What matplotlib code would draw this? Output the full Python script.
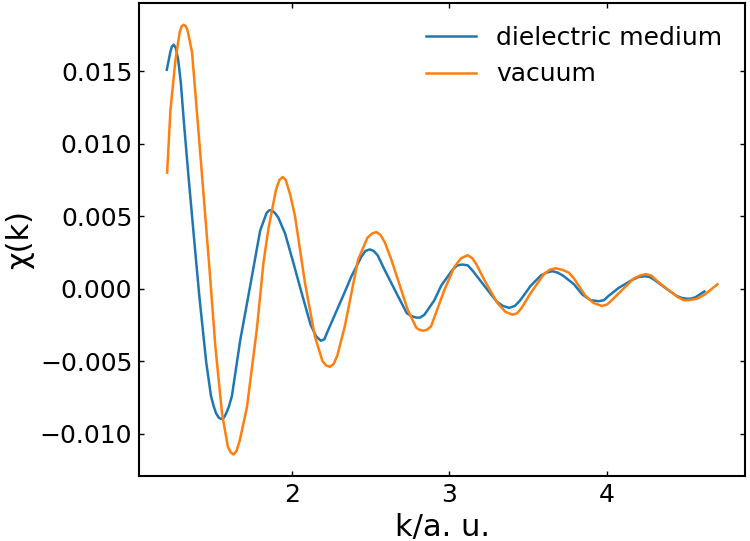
import matplotlib
matplotlib.use("Agg")
import matplotlib.pyplot as plt
from matplotlib.ticker import MultipleLocator

# dielectric medium
k_diel = [1.208, 1.230, 1.240, 1.252, 1.265, 1.280, 1.297, 1.315, 1.345, 1.378,
          1.414, 1.458, 1.488, 1.505, 1.520, 1.537, 1.553, 1.570, 1.585, 1.603,
          1.621, 1.673, 1.737, 1.800, 1.840, 1.857, 1.874, 1.895, 1.915, 1.958,
          2.010, 2.063, 2.120, 2.155, 2.185, 2.207, 2.230, 2.274, 2.330, 2.379,
          2.442, 2.468, 2.495, 2.520, 2.545, 2.589, 2.673, 2.730, 2.760, 2.790,
          2.815, 2.842, 2.905, 2.948, 3.020, 3.050, 3.084, 3.117, 3.150, 3.221,
          3.300, 3.340, 3.379, 3.415, 3.450, 3.516, 3.580, 3.615, 3.653, 3.687,
          3.720, 3.790, 3.842, 3.895, 3.948, 3.980, 4.010, 4.074, 4.160, 4.200,
          4.243, 4.270, 4.300, 4.369, 4.440, 4.475, 4.505, 4.530, 4.560, 4.617]
chi_diel = [0.0151, 0.0163, 0.0167, 0.01683, 0.0166, 0.0158, 0.0142, 0.01166, 0.0078, 0.0038,
            -0.0005, -0.0051, -0.0074, -0.0081, -0.0086, -0.0089, -0.0090, -0.0089, -0.0086, -0.0081,
            -0.0074, -0.0036, 0.0002, 0.0040, 0.0052, 0.0054, 0.0054, 0.0052, 0.0049, 0.0038,
            0.0018, -0.0003, -0.0025, -0.0033, -0.0036, -0.0035, -0.0029, -0.0018, -0.0004, 0.00085,
            0.0022, 0.0026, 0.0027, 0.0026, 0.0023, 0.0013, -0.0005, -0.0017, -0.0019, -0.0020,
            -0.0020, -0.0018, -0.0008, 0.0002, 0.0013, 0.0016, 0.00166, 0.0016, 0.0012, 0.0002,
            -0.0009, -0.0012, -0.00133, -0.0012, -0.0008, 0.0002, 0.0009, 0.0011, 0.0012, 0.0011,
            0.0009, 0.0003, -0.0004, -0.0008, -0.00087, -0.0008, -0.0005, 0.00005, 0.0006, 0.0008,
            0.00085, 0.0008, 0.0006, 0.00005, -0.0005, -0.00065, -0.0007, -0.0007, -0.0006, -0.0002]

# vacuum
k_vac = [1.210, 1.231, 1.263, 1.290, 1.302, 1.315, 1.328, 1.340, 1.368, 1.410,
         1.452, 1.484, 1.516, 1.558, 1.595, 1.613, 1.631, 1.650, 1.670, 1.716,
         1.779, 1.821, 1.852, 1.900, 1.922, 1.943, 1.962, 1.990, 2.021, 2.084,
         2.147, 2.195, 2.218, 2.242, 2.266, 2.290, 2.337, 2.421, 2.480, 2.510,
         2.537, 2.563, 2.590, 2.632, 2.737, 2.790, 2.810, 2.832, 2.857, 2.884,
         2.968, 3.032, 3.075, 3.116, 3.145, 3.170, 3.221, 3.305, 3.355, 3.400,
         3.430, 3.460, 3.516, 3.600, 3.637, 3.674, 3.715, 3.758, 3.790, 3.863,
         3.915, 3.968, 4.000, 4.030, 4.095, 4.170, 4.210, 4.246, 4.280, 4.320,
         4.389, 4.450, 4.485, 4.520, 4.570, 4.621, 4.700]
chi_vac = [0.0080, 0.0123, 0.0158, 0.0177, 0.0181, 0.0182, 0.0181, 0.0178, 0.0163, 0.0107,
           0.0050, 0.0006, -0.0040, -0.0086, -0.0109, -0.0113, -0.01145, -0.0112, -0.0105, -0.0082,
           -0.0028, 0.0018, 0.0041, 0.0068, 0.0075, 0.0077, 0.0075, 0.0065, 0.0050, 0.0004,
           -0.0033, -0.0050, -0.0053, -0.0054, -0.0052, -0.0046, -0.0026, 0.0020, 0.0035, 0.0038,
           0.0039, 0.0037, 0.0032, 0.0020, -0.0015, -0.0027, -0.00285, -0.0029, -0.00285, -0.0026,
           -0.0001, 0.0015, 0.0021, 0.0023, 0.0021, 0.0017, 0.0006, -0.0010, -0.0016, -0.0018,
           -0.0017, -0.0013, -0.0003, 0.0010, 0.0013, 0.0014, 0.0013, 0.0011, 0.0007, -0.0005,
           -0.0010, -0.0012, -0.0011, -0.0008, -0.0001, 0.0007, 0.0009, 0.0010, 0.0009, 0.0005,
           -0.0001, -0.0006, -0.0008, -0.0008, -0.0007, -0.0004, 0.0003]

labels = ["dielectric medium", "vacuum"]

fig = plt.figure(figsize=(7.5, 5.41), dpi=100)
ax = fig.add_axes([0.1857, 0.1201, 0.8076, 0.8738])

ax.plot(k_diel, chi_diel, color="#1f77b4", lw=1.8, label=labels[0])
ax.plot(k_vac, chi_vac, color="#ff7f0e", lw=1.8, label=labels[1])

ax.xaxis.set_major_locator(MultipleLocator(1))
ax.set_xlabel("k/a. u.", fontsize=22)
ax.set_ylabel("χ(k)", fontsize=22)
ax.tick_params(direction="in", top=True, right=True, labelsize=18, length=3.5, width=1.0, pad=5)
for s in ax.spines.values():
    s.set_linewidth(1.5)
ax.legend(loc="upper right", frameon=False, fontsize=18)

fig.savefig("out.png", dpi=100)
